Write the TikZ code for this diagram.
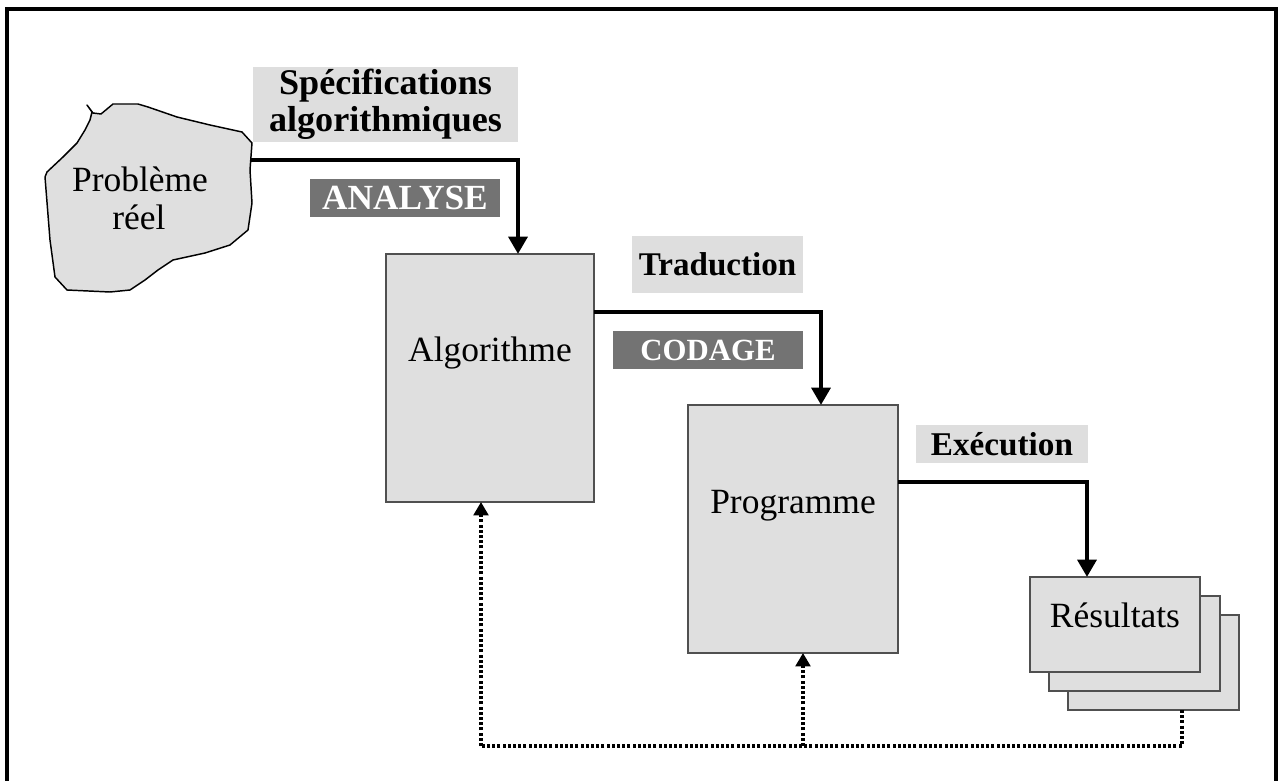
\documentclass[tikz,border=0pt]{standalone}
\usepackage{fontspec}
\setmainfont{Liberation Serif}
\usetikzlibrary{arrows.meta}
\definecolor{boxgray}{HTML}{DFDFDF}
\definecolor{labgray}{HTML}{DEDEDE}
\definecolor{darklab}{HTML}{737373}
\definecolor{edgegray}{HTML}{505050}
\begin{document}
\begin{tikzpicture}[x=0.75pt,y=-0.75pt,
  box/.style={draw=edgegray,line width=0.9pt,fill=boxgray,inner sep=0pt,outer sep=0pt,anchor=north west},
  lightlab/.style={fill=labgray,inner sep=0pt,outer sep=0pt,anchor=north west,font=\bfseries,align=center},
  darklabel/.style={fill=darklab,text=white,inner sep=0pt,outer sep=0pt,anchor=north west,font=\bfseries},
  regtext/.style={anchor=base,inner sep=0pt,font=\fontsize{26.6pt}{28pt}\selectfont},
  flow/.style={line width=3.2pt,-{Triangle[width=14pt,length=13pt]}},
  dotline/.style={line width=2.3pt,dash pattern=on 2.3pt off 1.6pt},
  dotarrow/.style={dotline,-{Triangle[width=11pt,length=10pt]}}]
\useasboundingbox (0,0) rectangle (1279,781);
% frame
\draw[line width=2.3pt] (7,800) -- (7,9) -- (1276,9) -- (1276,800);
% blob
\draw[fill=boxgray,line width=1.1pt,line join=round]
 (92,112) -- (87,105) -- (93,113) -- (101,114) -- (113,104) -- (138,104) -- (148,107)
 -- (177,117) -- (210,125) -- (242,132) -- (252,143) -- (250,170) -- (252,203)
 -- (248,230) -- (230,245) -- (205,253) -- (173,260) -- (158,270) -- (145,280)
 -- (130,290) -- (110,292) -- (67,290) -- (55,277) -- (50,240) -- (45,177)
 -- (47,172) -- (63,157) -- (77,143) -- (85,130) -- (90,120) -- cycle;
\coordinate (blobE) at (251,160);
\node[regtext] (probA) at (140,192) {Problème};
\node[regtext] (probB) at (139,230) {réel};
% labels
\node[lightlab,minimum width=198.75pt,minimum height=56.25pt,font=\bfseries\fontsize{27.1pt}{27.8pt}\selectfont] (spec) at (253,67) {Spécifications\\algorithmiques};
\node[darklabel,minimum width=142.5pt,minimum height=28.5pt,font=\bfseries\fontsize{26.5pt}{28pt}\selectfont] (analyse) at (310,179) {ANALYSE};
\node[lightlab,minimum width=128.25pt,minimum height=42.75pt,font=\bfseries\fontsize{24.8pt}{26pt}\selectfont] (trad) at (632,236) {Traduction};
\node[darklabel,minimum width=142.5pt,minimum height=28.5pt,font=\bfseries\fontsize{23.1pt}{25pt}\selectfont] (codage) at (613,331) {CODAGE};
\node[lightlab,minimum width=129pt,minimum height=28.5pt,font=\bfseries\fontsize{24.9pt}{26pt}\selectfont] (exec) at (916,425) {Exécution};
% boxes
\node[box,minimum width=156pt,minimum height=186pt] (algo) at (386,254) {};
\node[regtext] (algotxt) at (490,361) {Algorithme};
\node[box,minimum width=157.5pt,minimum height=186pt] (prog) at (688,405) {};
\node[regtext] (progtxt) at (793,513) {Programme};
\node[box,minimum width=128.25pt,minimum height=71.25pt] (res3) at (1068,615) {};
\node[box,minimum width=128.25pt,minimum height=71.25pt] (res2) at (1049,596) {};
\node[box,minimum width=127.5pt,minimum height=71.25pt] (res1) at (1030,577) {};
\node[regtext] (restxt) at (1115,627) {Résultats};
% flow arrows
\draw[flow] (blobE) -| ([xshift=21pt]algo.north);
\draw[flow] ([yshift=-43.5pt]algo.north east) -| ([xshift=21pt]prog.north);
\draw[flow] ([yshift=-57.75pt]prog.north east) -| ([xshift=-21pt]res1.north);
% feedback
\coordinate (busR) at (1182,746);
\coordinate (busM) at (803,746);
\coordinate (busL) at (481,746);
\draw[dotline] (busR |- res3.south) -- (busR) -- (busL);
\draw[dotarrow] (busL) -- (busL |- algo.south);
\draw[dotarrow] (busM) -- (busM |- prog.south);
\end{tikzpicture}
\end{document}
